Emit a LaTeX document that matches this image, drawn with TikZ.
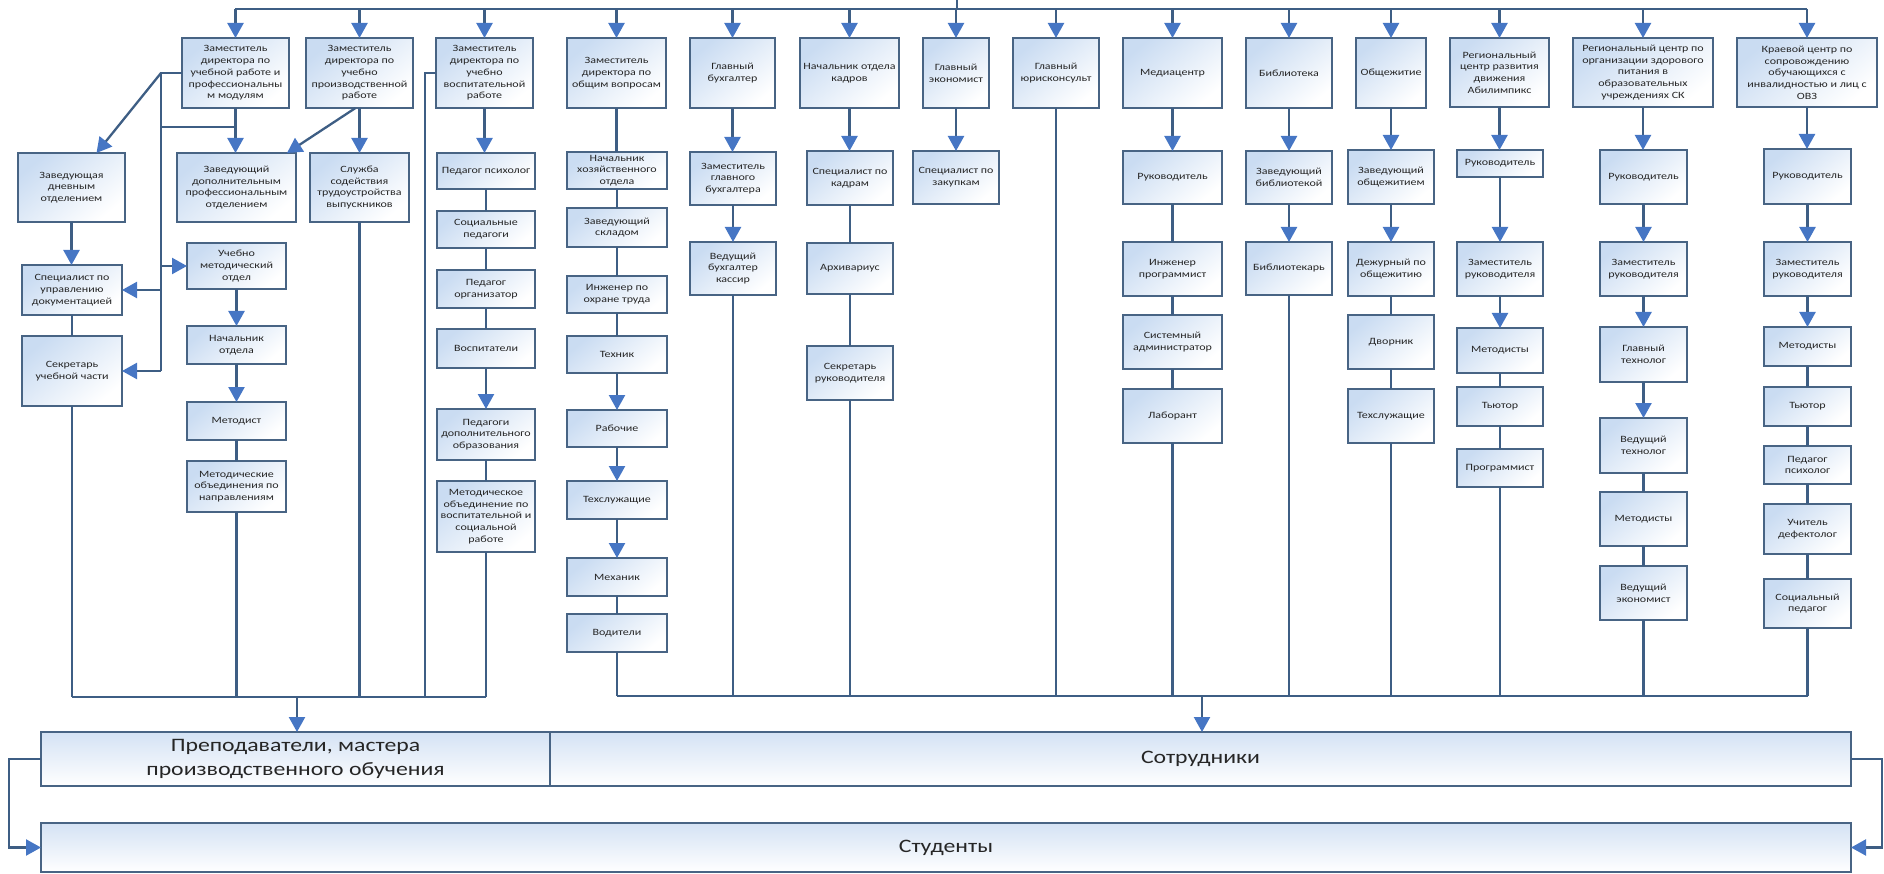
\documentclass[tikz,border=0pt]{standalone}
\usepackage{fontspec}
\setmainfont{Carlito}[FakeStretch=1.25]
\usetikzlibrary{arrows.meta}
\definecolor{bordc}{RGB}{72,100,132}
\definecolor{linec}{RGB}{62,94,132}
\definecolor{arrc}{RGB}{70,118,196}
\definecolor{boxtop}{RGB}{202,220,242}
\definecolor{bigtop}{RGB}{212,226,244}
\definecolor{txtc}{RGB}{38,38,38}
\newcommand\mkbox[6]{\node[bx, minimum width={#4-#2}, minimum height={#5-#3}] (#1) at ({(#2+#4)/2},{(#3+#5)/2}) {#6};}
\newcommand\conA[2]{\draw[arr] (#1.south) -- (#1.south |- #2.north);}
\newcommand\conL[2]{\draw[ln] (#1.south) -- (#1.south |- #2.north);}
\newcommand\tobus[2]{\draw[ln] (#1.south) -- (#1.south |- #2);}
\newcommand\frombus[1]{\draw[arr] (#1.north |- tbL) -- (#1.north);}
\tikzset{
  bx/.style={draw=bordc, line width=1.4pt, top color=boxtop, bottom color=white, shading angle=40,
    inner sep=1pt, outer sep=0pt, align=center, font=\fontsize{9.6}{11.7}\selectfont, text=txtc},
  big/.style={draw=bordc, line width=1.4pt, top color=bigtop, bottom color=white,
    inner sep=0pt, outer sep=0pt, align=center, font=\fontsize{19}{23.5}\selectfont, text=txtc},
  ln/.style={draw=linec, line width=2.3pt},
  arr/.style={ln, -{Triangle[width=16pt,length=15pt,color=arrc]}}
}
\begin{document}
\begin{tikzpicture}[x=1pt,y=-1pt]
\useasboundingbox (0,0) rectangle (1884,874);
% ---------- top row ----------
\mkbox{z1}{182}{38}{289}{108}{Заместитель\\директора по\\учебной работе и\\профессиональны\\м модулям}
\mkbox{z2}{306}{38}{413}{108}{Заместитель\\директора по\\учебно\\производственной\\работе}
\mkbox{z3}{436}{38}{533}{108}{Заместитель\\директора по\\учебно\\воспитательной\\работе}
\mkbox{z4}{567}{38}{666}{108}{Заместитель\\директора по\\общим вопросам}
\mkbox{gb}{690}{38}{775}{108}{Главный\\бухгалтер}
\mkbox{nok}{800}{38}{899}{108}{Начальник отдела\\кадров}
\mkbox{ge}{923}{38}{989}{108}{Главный\\экономист}
\mkbox{gyu}{1013}{38}{1099}{108}{Главный\\юрисконсульт}
\mkbox{mc}{1123}{38}{1222}{108}{Медиацентр}
\mkbox{bib}{1246}{38}{1332}{108}{Библиотека}
\mkbox{obsh}{1356}{38}{1426}{108}{Общежитие}
\mkbox{abil}{1450}{38}{1549}{107}{Региональный\\центр развития\\движения\\Абилимпикс}
\mkbox{pit}{1573}{38}{1713}{107}{Региональный центр по\\организации здорового\\питания в\\образовательных\\учреждениях СК}
\mkbox{ovz}{1737}{38}{1877}{107}{Краевой центр по\\сопровождению\\обучающихся с\\инвалидностью и лиц с\\ОВЗ}
% ---------- column 1-2 ----------
\mkbox{zdo}{18}{153}{125}{222}{Заведующая\\дневным\\отделением}
\mkbox{zdpo}{177}{153}{296}{222}{Заведующий\\дополнительным\\профессиональным\\отделением}
\mkbox{sluzh}{310}{153}{409}{222}{Служба\\содействия\\трудоустройства\\выпускников}
\mkbox{umo}{187}{243}{286}{289}{Учебно\\методический\\отдел}
\mkbox{spud}{22}{265}{122}{315}{Специалист по\\управлению\\документацией}
\mkbox{sekr}{22}{336}{122}{406}{Секретарь\\учебной части}
\mkbox{nach}{187}{326}{286}{364}{Начальник\\отдела}
\mkbox{met}{187}{402}{286}{440}{Методист}
\mkbox{mob}{187}{461}{286}{512}{Методические\\объединения по\\направлениям}
% ---------- column 3 ----------
\mkbox{pp}{437}{153}{535}{189}{Педагог психолог}
\mkbox{sp}{437}{211}{535}{248}{Социальные\\педагоги}
\mkbox{po}{437}{270}{535}{308}{Педагог\\организатор}
\mkbox{vos}{437}{329}{535}{368}{Воспитатели}
\mkbox{pdo}{437}{409}{535}{460}{Педагоги\\дополнительного\\образования}
\mkbox{moz}{437}{481}{535}{552}{Методическое\\объединение по\\воспитательной и\\социальной\\работе}
% ---------- column 4 ----------
\mkbox{nho}{567}{152}{667}{189}{Начальник\\хозяйственного\\отдела}
\mkbox{zs}{567}{208}{667}{247}{Заведующий\\складом}
\mkbox{iot}{567}{276}{667}{313}{Инженер по\\охране труда}
\mkbox{tech}{567}{336}{667}{373}{Техник}
\mkbox{rab}{567}{410}{667}{447}{Рабочие}
\mkbox{tsl}{567}{481}{667}{519}{Техслужащие}
\mkbox{mech}{567}{558}{667}{596}{Механик}
\mkbox{vod}{567}{614}{667}{652}{Водители}
% ---------- column 5-8 ----------
\mkbox{zgb}{690}{152}{776}{205}{Заместитель\\главного\\бухгалтера}
\mkbox{vbk}{690}{242}{776}{295}{Ведущий\\бухгалтер\\кассир}
\mkbox{spk}{807}{151}{893}{205}{Специалист по\\кадрам}
\mkbox{arch}{807}{243}{893}{294}{Архивариус}
\mkbox{sekrr}{807}{346}{893}{400}{Секретарь\\руководителя}
\mkbox{spz}{913}{151}{999}{204}{Специалист по\\закупкам}
% ---------- column 9-11 ----------
\mkbox{mcr}{1123}{151}{1222}{204}{Руководитель}
\mkbox{ip}{1123}{242}{1222}{296}{Инженер\\программист}
\mkbox{sa}{1123}{315}{1222}{369}{Системный\\администратор}
\mkbox{lab}{1123}{389}{1222}{443}{Лаборант}
\mkbox{zb}{1246}{151}{1332}{204}{Заведующий\\библиотекой}
\mkbox{bibl}{1246}{242}{1332}{295}{Библиотекарь}
\mkbox{zob}{1348}{150}{1434}{204}{Заведующий\\общежитием}
\mkbox{dezh}{1348}{242}{1434}{296}{Дежурный по\\общежитию}
\mkbox{dvor}{1348}{315}{1434}{369}{Дворник}
\mkbox{tslo}{1348}{389}{1434}{443}{Техслужащие}
% ---------- column 12 ----------
\mkbox{ar}{1457}{150}{1543}{177}{Руководитель}
\mkbox{azr}{1457}{242}{1543}{296}{Заместитель\\руководителя}
\mkbox{am}{1457}{328}{1543}{373}{Методисты}
\mkbox{at}{1457}{387}{1543}{426}{Тьютор}
\mkbox{aprog}{1457}{449}{1543}{487}{Программист}
% ---------- column 13 ----------
\mkbox{pr}{1600}{150}{1687}{204}{Руководитель}
\mkbox{pzr}{1600}{242}{1687}{296}{Заместитель\\руководителя}
\mkbox{pgt}{1600}{327}{1687}{382}{Главный\\технолог}
\mkbox{pvt}{1600}{418}{1687}{473}{Ведущий\\технолог}
\mkbox{pm}{1600}{492}{1687}{546}{Методисты}
\mkbox{pve}{1600}{566}{1687}{620}{Ведущий\\экономист}
% ---------- column 14 ----------
\mkbox{or}{1764}{149}{1851}{204}{Руководитель}
\mkbox{ozr}{1764}{242}{1851}{296}{Заместитель\\руководителя}
\mkbox{om}{1764}{327}{1851}{366}{Методисты}
\mkbox{ot}{1764}{387}{1851}{426}{Тьютор}
\mkbox{opp}{1764}{446}{1851}{484}{Педагог\\психолог}
\mkbox{oud}{1764}{504}{1851}{554}{Учитель\\дефектолог}
\mkbox{osp}{1764}{579}{1851}{628}{Социальный\\педагог}
% ---------- bottom ----------
\node[big, minimum width=509pt, minimum height=54pt] (prep) at (295.5,759) {Преподаватели, мастера\\производственного обучения};
\node[big, minimum width=1301pt, minimum height=54pt] (sotr) at (1200.5,759) {Сотрудники};
\node[big, minimum width=1810pt, minimum height=49pt] (stud) at (946,847.5) {Студенты};
% ---------- buses ----------
\coordinate (tbL) at (235,9);
\coordinate (tbR) at (1807,9);
\coordinate (dirS) at (957,0);
\coordinate (dirB) at (957,9);
\draw[ln] (tbL) -- (tbR);
\draw[ln] (dirS) -- (dirB);
\foreach \n in {z1,z2,z3,z4,gb,nok,ge,gyu,mc,bib,obsh,abil,pit,ovz} {\frombus{\n}}
\coordinate (lbL) at (72,697);
\coordinate (lbR) at (486,697);
\coordinate (lbA) at (297,697);
\draw[ln] (lbL) -- (lbR);
\draw[arr] (lbA) -- (lbA |- prep.north);
\coordinate (rbL) at (617,696);
\coordinate (rbR) at (1808,696);
\coordinate (rbA) at (1202,696);
\draw[ln] (rbL) -- (rbR);
\draw[arr] (rbA) -- (rbA |- sotr.north);
% ---------- column 1-2 wiring ----------
\coordinate (c1t) at (161,73);
\coordinate (c1m) at (161,127);
\draw[ln] (z1.west) -- (c1t) -- (c1t |- sekr.east);
\draw[arr] (c1t) -- ([xshift=25pt]zdo.north);
\draw[arr] (z1.south) -- (z1.south |- zdpo.north);
\draw[ln] (z1.south |- c1m) -- (c1m);
\draw[arr] (c1t |- umo.west) -- (umo.west);
\draw[arr] (c1t |- spud.east) -- (spud.east);
\draw[arr] (c1t |- sekr.east) -- (sekr.east);
\draw[arr] ([xshift=-4pt]z2.south) -- ([xshift=-9pt]zdpo.north east);
\conA{z2}{sluzh}
\conA{zdo}{spud}
\conL{spud}{sekr}
\conA{umo}{nach}
\conA{nach}{met}
\conL{met}{mob}
\tobus{sekr}{lbL}
\tobus{mob}{lbL}
\tobus{sluzh}{lbL}
\coordinate (c3) at (425,73);
\draw[ln] (z3.west) -- (c3) -- (c3 |- lbL);
% ---------- column 3 ----------
\conA{z3}{pp}
\conL{pp}{sp}
\conL{sp}{po}
\conL{po}{vos}
\conA{vos}{pdo}
\conL{pdo}{moz}
\tobus{moz}{lbL}
% ---------- column 4 ----------
\conL{z4}{nho}
\conL{nho}{zs}
\conL{zs}{iot}
\conL{iot}{tech}
\conA{tech}{rab}
\conA{rab}{tsl}
\conA{tsl}{mech}
\conL{mech}{vod}
\tobus{vod}{rbL}
% ---------- column 5-8 ----------
\conA{gb}{zgb}
\conA{zgb}{vbk}
\tobus{vbk}{rbL}
\conA{nok}{spk}
\conL{spk}{arch}
\conL{arch}{sekrr}
\tobus{sekrr}{rbL}
\conA{ge}{spz}
\tobus{gyu}{rbL}
% ---------- column 9-11 ----------
\conA{mc}{mcr}
\conL{mcr}{ip}
\conL{ip}{sa}
\conL{sa}{lab}
\tobus{lab}{rbL}
\conA{bib}{zb}
\conA{zb}{bibl}
\tobus{bibl}{rbL}
\conA{obsh}{zob}
\conA{zob}{dezh}
\conL{dezh}{dvor}
\conL{dvor}{tslo}
\tobus{tslo}{rbL}
% ---------- column 12 ----------
\conA{abil}{ar}
\conA{ar}{azr}
\conA{azr}{am}
\conL{am}{at}
\conL{at}{aprog}
\tobus{aprog}{rbL}
% ---------- column 13 ----------
\conA{pit}{pr}
\conA{pr}{pzr}
\conA{pzr}{pgt}
\conA{pgt}{pvt}
\conL{pvt}{pm}
\conL{pm}{pve}
\tobus{pve}{rbL}
% ---------- column 14 ----------
\conA{ovz}{or}
\conA{or}{ozr}
\conA{ozr}{om}
\conL{om}{ot}
\conL{ot}{opp}
\conL{opp}{oud}
\conL{oud}{osp}
\tobus{osp}{rbL}
% ---------- bottom loops ----------
\draw[arr] (prep.west) -- ++(-32,0) |- (stud.west);
\draw[arr] (sotr.east) -- ++(31,0) |- (stud.east);
\end{tikzpicture}
\end{document}
